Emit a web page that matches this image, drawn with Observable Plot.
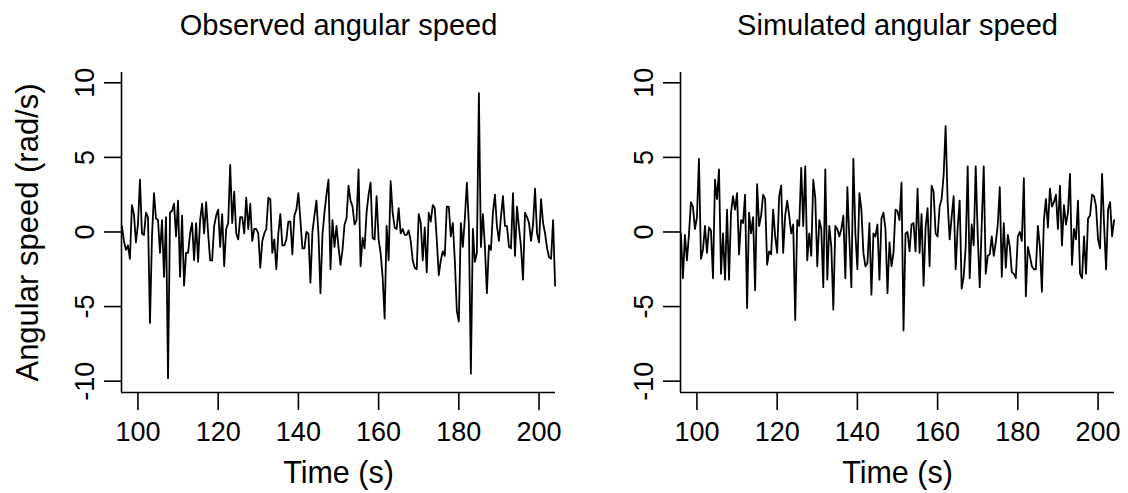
<!DOCTYPE html>
<html><head><meta charset="utf-8">
<script src="https://cdn.jsdelivr.net/npm/d3@7"></script>
<script src="https://cdn.jsdelivr.net/npm/@observablehq/plot@0.6"></script>
<style>
body{margin:0;background:#fff}
#wrap{display:flex;width:1128px;height:493px;overflow:hidden}
#wrap svg{overflow:visible}
</style>
</head><body><div id="wrap"></div>
<script>
const time = [
96,96.5,97,97.5,98,98.5,99,99.5,100,100.5,
101,101.5,102,102.5,103,103.5,104,104.5,105,105.5,
106,106.5,107,107.5,108,108.5,109,109.5,110,110.5,
111,111.5,112,112.5,113,113.5,114,114.5,115,115.5,
116,116.5,117,117.5,118,118.5,119,119.5,120,120.5,
121,121.5,122,122.5,123,123.5,124,124.5,125,125.5,
126,126.5,127,127.5,128,128.5,129,129.5,130,130.5,
131,131.5,132,132.5,133,133.5,134,134.5,135,135.5,
136,136.5,137,137.5,138,138.5,139,139.5,140,140.5,
141,141.5,142,142.5,143,143.5,144,144.5,145,145.5,
146,146.5,147,147.5,148,148.5,149,149.5,150,150.5,
151,151.5,152,152.5,153,153.5,154,154.5,155,155.5,
156,156.5,157,157.5,158,158.5,159,159.5,160,160.5,
161,161.5,162,162.5,163,163.5,164,164.5,165,165.5,
166,166.5,167,167.5,168,168.5,169,169.5,170,170.5,
171,171.5,172,172.5,173,173.5,174,174.5,175,175.5,
176,176.5,177,177.5,178,178.5,179,179.5,180,180.5,
181,181.5,182,182.5,183,183.5,184,184.5,185,185.5,
186,186.5,187,187.5,188,188.5,189,189.5,190,190.5,
191,191.5,192,192.5,193,193.5,194,194.5,195,195.5,
196,196.5,197,197.5,198,198.5,199,199.5,200,200.5,
201,201.5,202,202.5,203,203.5,204
];
const observedSpeed = [
0.4,-0.6,-1.2,-0.9,-1.8,1.8,1.2,-0.7,0.5,3.5,
-0.1,-0.2,1.3,1.0,-6.1,-0.3,2.6,0.9,0.8,-1.4,
0.8,-3.0,1.0,-9.8,1.3,1.4,1.9,-0.3,2.1,-3.0,
1.1,-3.6,-1.4,-1.4,-0.1,0.6,-1.9,0.6,-2.0,0.8,
1.9,-0.1,2.0,-0.1,-1.9,-1.9,0.4,1.1,1.5,-1.0,
1.2,-2.3,0.2,0.6,4.5,0.6,2.7,-0.1,-0.5,1.0,
1.0,-0.1,2.3,0.2,1.9,-0.6,0.2,0.2,-0.1,-2.4,
-0.6,-0.1,0.2,2.3,2.2,-1.4,-0.5,-2.5,-0.1,1.2,
-0.9,-0.9,-0.5,0.7,0.7,-1.5,1.1,1.5,2.6,0.8,
-1.1,-1.1,0.0,-0.1,-3.4,0.0,1.1,2.1,-0.1,-4.1,
-0.2,1.3,2.5,3.5,-2.5,0.8,-1.0,0.4,-1.0,-2.2,
-1.2,0.5,0.9,3.1,2.1,1.7,0.5,0.8,4.2,-2.3,
-0.4,-1.1,1.3,2.5,3.3,-0.4,-0.5,2.4,-0.5,-1.4,
-3.0,-5.8,0.4,-1.9,3.4,1.3,0.3,0.2,1.6,-0.1,
0.2,-0.2,-0.2,0.1,-0.6,-1.9,-2.4,-2.5,1.2,0.6,
-1.9,0.3,-2.7,1.3,0.7,1.8,1.6,-0.5,-2.9,-1.9,
-1.3,-1.6,1.7,1.7,-0.3,0.6,-1.9,-5.3,-6.0,0.6,
-1.0,0.9,3.3,0.5,-9.5,0.2,-2.0,-1.4,9.3,-1.0,
1.2,-1.0,-4.1,-0.9,-1.2,1.3,2.5,0.4,-0.6,1.0,
2.4,0.4,0.4,-1.0,-1.1,2.6,-1.6,1.7,0.3,-1.0,
-3.2,1.3,1.0,0.6,-0.6,0.5,2.9,-0.1,-0.7,2.2,
0.6,-0.1,-1.1,-1.7,-1.8,0.8,-3.6
];
const simulatedSpeed = [
-0.1,-3.1,-0.2,-1.9,-0.2,2.0,1.7,0.2,1.0,4.9,
-1.8,-1.2,0.4,-1.4,0.3,0.1,-3.1,3.5,2.2,4.2,
-2.8,-0.1,-3.2,1.5,-3.2,1.3,2.4,1.5,2.6,-1.5,
0.8,0.6,2.5,-5.1,1.3,-0.1,1.0,-3.9,3.2,0.4,
1.1,2.5,2.2,-2.2,-1.3,-1.5,1.5,-0.3,-1.4,2.4,
3.1,-1.4,1.1,2.1,1.1,-0.1,0.5,-5.9,0.8,0.4,
4.3,0.4,4.4,-1.9,-0.1,-1.6,3.5,2.3,-2.3,0.8,
0.2,-3.7,4.2,-3.2,0.4,-1.0,-5.2,0.4,0.2,-0.3,
0.2,1.1,-3.1,3.0,-0.5,-3.7,4.9,-0.1,-2.5,2.6,
1.5,-1.4,-2.3,-2.1,0.6,-4.2,-0.1,-0.3,0.5,-3.2,
0.9,1.3,0.2,-4.1,-0.7,-2.3,-1.4,1.5,1.4,0.8,
3.3,-6.6,-0.1,0.0,-1.3,0.5,0.6,-1.3,2.9,-1.4,
1.2,-3.6,0.3,1.6,-2.3,3.1,2.7,-0.1,-0.3,1.7,
2.2,3.8,7.1,2.0,-0.5,1.0,2.4,-2.5,0.3,2.1,
-3.8,-3.0,-1.0,4.4,-3.1,0.5,-0.9,4.4,-0.2,-3.7,
0.5,4.4,-2.8,-1.6,-1.5,-0.3,-1.6,-0.7,0.5,3.0,
-3.0,0.6,-2.4,-0.2,-1.0,-2.7,-2.8,-3.1,-0.3,0.0,
-0.6,3.6,-4.3,-1.0,-1.6,-2.3,-2.5,-2.5,0.4,-1.0,
-4.0,0.8,2.2,0.3,2.9,1.7,2.0,2.5,0.2,3.1,
-0.9,1.8,0.5,1.3,3.9,-2.2,0.2,-0.5,2.1,-2.8,
-3.1,-0.3,-2.8,0.9,1.1,2.5,2.4,1.7,-0.5,-1.1,
3.9,0.5,-2.5,1.5,2.0,-0.3,0.8
];
const xTicks = [100, 120, 140, 160, 180, 200];
const yTicks = [-10, -5, 0, 5, 10];
const panelTitles = ["Observed angular speed", "Simulated angular speed"];
const xLabel = "Time (s)";
const yLabel = "Angular speed (rad/s)";
const xDomain = [95.9, 204.1];
const yDomain = [-10.76, 10.69];

const FONT = "'Liberation Sans', Arial, Helvetica, sans-serif";

function panel(values, title, showYLabel, marginLeft, marginRight) {
  const data = time.map((t, i) => ({t, v: values[i]}));
  const marks = [
    Plot.ruleX([xDomain[0]], {stroke: "#000", strokeWidth: 1.6}),
    Plot.ruleY([yDomain[0]], {stroke: "#000", strokeWidth: 1.6}),
    Plot.axisX({ticks: xTicks, tickSize: 18, tickPadding: 11.5, tickFormat: d => String(d), label: null, strokeWidth: 1.6, fontSize: 27}),
    Plot.axisY({ticks: yTicks, tickSize: 17, tickFormat: () => "", label: null, strokeWidth: 1.6}),
    Plot.text(yTicks, {y: d => d, frameAnchor: "left", dx: -28, rotate: -90, text: d => String(d), textAnchor: "middle", lineAnchor: "bottom", fontSize: 27}),
    Plot.line(data, {x: "t", y: "v", stroke: "#000", strokeWidth: 1.8}),
    Plot.text([title], {frameAnchor: "top", dy: -38, text: d => d, lineAnchor: "bottom", fontSize: 29}),
    Plot.text([xLabel], {frameAnchor: "bottom", dy: 90, text: d => d, lineAnchor: "bottom", fontSize: 30.5})
  ];
  if (showYLabel) {
    marks.push(Plot.text([yLabel], {frameAnchor: "left", dx: -84, rotate: -90, text: d => d, textAnchor: "middle", lineAnchor: "bottom", fontSize: 31}));
  }
  return Plot.plot({
    width: 564, height: 493,
    marginLeft, marginRight, marginTop: 72, marginBottom: 101,
    style: {fontFamily: FONT, fontSize: "27px", color: "#000", background: "#fff", overflow: "visible"},
    x: {domain: xDomain},
    y: {domain: yDomain},
    marks
  });
}

const wrap = document.getElementById("wrap");
wrap.appendChild(panel(observedSpeed, panelTitles[0], true, 121, 9));
wrap.appendChild(panel(simulatedSpeed, panelTitles[1], false, 116, 14));
</script>
</body></html>
